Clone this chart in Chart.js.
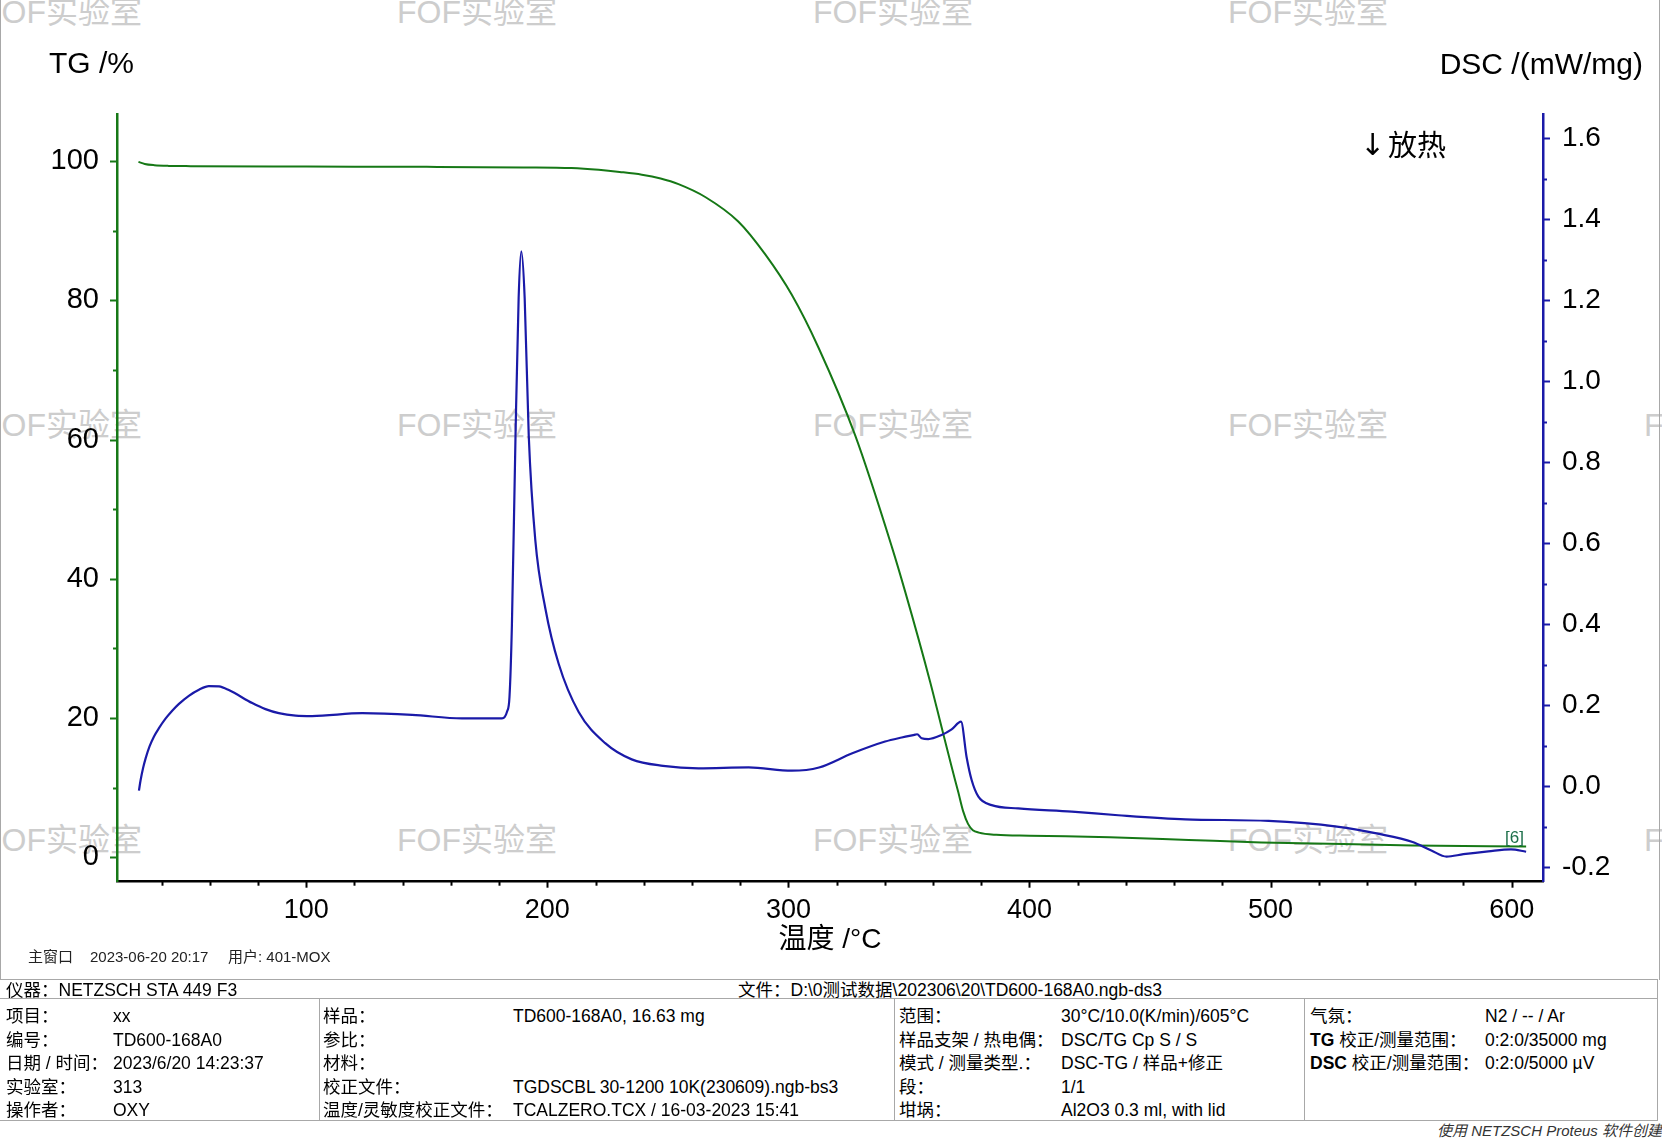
<!DOCTYPE html>
<html>
<head>
<meta charset="utf-8">
<title>TG / DSC</title>
<script src="https://cdn.jsdelivr.net/npm/chart.js@4.4.0/dist/chart.umd.min.js"></script>
<style>
    body {
        margin: 0;
        width: 1662px;
        height: 1140px;
        position: relative;
        overflow: hidden;
        background: #fff;
        font-family: "Liberation Sans", "Noto Sans CJK SC", sans-serif;
        color: #000;
    }
    .t { position: absolute; white-space: nowrap; }
    .cjk { font-family: "Liberation Sans", "Noto Sans CJK SC", sans-serif; }
    .wm {
        position: absolute;
        white-space: nowrap;
        color: #cdcdcd;
        font-size: 32px;
        transform: translate(-50%, -50%);
    }
    .row { position: absolute; white-space: nowrap; font-size: 17.5px; line-height: 20px; }
    .hl { position: absolute; left: 0; width: 1658px; height: 1px; background: #a8a8a8; }
    .vl { position: absolute; width: 1px; background: #a8a8a8; }
    #chart { position: absolute; left: 0; top: 0; }
</style>
</head>
<body>

<!-- watermark -->
<div class="wm" style="left:62px;top:9px">FOF实验室</div>
<div class="wm" style="left:477px;top:9px">FOF实验室</div>
<div class="wm" style="left:893px;top:9px">FOF实验室</div>
<div class="wm" style="left:1308px;top:9px">FOF实验室</div>
<div class="wm" style="left:62px;top:422px">FOF实验室</div>
<div class="wm" style="left:477px;top:422px">FOF实验室</div>
<div class="wm" style="left:893px;top:422px">FOF实验室</div>
<div class="wm" style="left:1308px;top:422px">FOF实验室</div>
<div class="wm" style="left:1724px;top:422px">FOF实验室</div>
<div class="wm" style="left:62px;top:837px">FOF实验室</div>
<div class="wm" style="left:477px;top:837px">FOF实验室</div>
<div class="wm" style="left:893px;top:837px">FOF实验室</div>
<div class="wm" style="left:1308px;top:837px">FOF实验室</div>
<div class="wm" style="left:1724px;top:837px">FOF实验室</div>

<canvas id="chart" width="1662" height="970"></canvas>

<!-- frame -->
<div class="vl" style="left:0;top:0;height:980px;"></div>
<div class="vl" style="left:1659px;top:0;height:980px;"></div>

<!-- axis titles and notes -->
<div class="t" style="left:49px;top:48px;font-size:30px;line-height:30px;">TG /%</div>
<div class="t" style="right:19px;top:49px;font-size:30px;line-height:30px;">DSC /(mW/mg)</div>
<div class="t" style="left:1360px;top:127px;font-family:'DejaVu Sans';font-size:30px;line-height:36px;">↓</div>
<div class="t cjk" style="left:1388px;top:128px;font-size:29px;line-height:36px;">放热</div>
<div class="t cjk" style="left:830px;top:939px;font-size:28px;line-height:30px;transform:translate(-50%,-50%);">温度 /°C</div>
<div class="t" style="left:1505px;top:828px;font-size:17px;line-height:20px;color:#1d6f4a;">[6]</div>

<div class="t cjk" style="left:28px;top:947px;font-size:15px;line-height:20px;color:#222;">主窗口</div>
<div class="t" style="left:90px;top:947px;font-size:15px;line-height:20px;color:#222;">2023-06-20 20:17</div>
<div class="t cjk" style="left:228px;top:947px;font-size:15px;line-height:20px;color:#222;">用户: 401-MOX</div>

<!-- info table -->
<div class="hl" style="top:979px;"></div>
<div class="hl" style="top:998px;"></div>
<div class="hl" style="top:1120px;"></div>
<div class="vl" style="left:319px;top:998px;height:122px;"></div>
<div class="vl" style="left:894px;top:998px;height:122px;"></div>
<div class="vl" style="left:1304px;top:998px;height:122px;"></div>
<div class="vl" style="left:1657px;top:979px;height:141px;"></div>

<div class="row" style="left:6px;top:980px;">仪器：NETZSCH STA 449 F3</div>
<div class="row" style="left:738px;top:980px;">文件：D:\0测试数据\202306\20\TD600-168A0.ngb-ds3</div>

<div class="row" style="left:6px;top:1006px;">项目：</div>
<div class="row" style="left:113px;top:1006px;">xx</div>
<div class="row" style="left:6px;top:1030px;">编号：</div>
<div class="row" style="left:113px;top:1030px;">TD600-168A0</div>
<div class="row" style="left:6px;top:1053px;">日期 / 时间：</div>
<div class="row" style="left:113px;top:1053px;">2023/6/20 14:23:37</div>
<div class="row" style="left:6px;top:1077px;">实验室：</div>
<div class="row" style="left:113px;top:1077px;">313</div>
<div class="row" style="left:6px;top:1100px;">操作者：</div>
<div class="row" style="left:113px;top:1100px;">OXY</div>

<div class="row" style="left:323px;top:1006px;">样品：</div>
<div class="row" style="left:513px;top:1006px;">TD600-168A0, 16.63 mg</div>
<div class="row" style="left:323px;top:1030px;">参比：</div>
<div class="row" style="left:323px;top:1053px;">材料：</div>
<div class="row" style="left:323px;top:1077px;">校正文件：</div>
<div class="row" style="left:513px;top:1077px;">TGDSCBL 30-1200 10K(230609).ngb-bs3</div>
<div class="row" style="left:323px;top:1100px;">温度/灵敏度校正文件：</div>
<div class="row" style="left:513px;top:1100px;">TCALZERO.TCX / 16-03-2023 15:41</div>

<div class="row" style="left:899px;top:1006px;">范围：</div>
<div class="row" style="left:1061px;top:1006px;">30°C/10.0(K/min)/605°C</div>
<div class="row" style="left:899px;top:1030px;">样品支架 / 热电偶：</div>
<div class="row" style="left:1061px;top:1030px;">DSC/TG Cp S / S</div>
<div class="row" style="left:899px;top:1053px;">模式 / 测量类型.：</div>
<div class="row" style="left:1061px;top:1053px;">DSC-TG / 样品+修正</div>
<div class="row" style="left:899px;top:1077px;">段：</div>
<div class="row" style="left:1061px;top:1077px;">1/1</div>
<div class="row" style="left:899px;top:1100px;">坩埚：</div>
<div class="row" style="left:1061px;top:1100px;">Al2O3 0.3 ml, with lid</div>

<div class="row" style="left:1310px;top:1006px;">气氛：</div>
<div class="row" style="left:1485px;top:1006px;">N2 / -- / Ar</div>
<div class="row" style="left:1310px;top:1030px;"><b>TG</b> 校正/测量范围：</div>
<div class="row" style="left:1485px;top:1030px;">0:2:0/35000 mg</div>
<div class="row" style="left:1310px;top:1053px;"><b>DSC</b> 校正/测量范围：</div>
<div class="row" style="left:1485px;top:1053px;">0:2:0/5000 µV</div>

<div class="row" style="right:0;top:1121px;font-size:15px;font-style:italic;color:#333;">使用 NETZSCH Proteus 软件创建</div>

<script>
// TG / DSC data
const tgTemp = [30.4, 33, 37, 43, 52, 100, 150, 190, 210, 221.3, 230, 239.2, 247, 254.4, 265.5, 279.3, 290.4, 301.4,
    312.5, 327.7, 342.9, 348.4, 358.8, 363.6, 367.7, 370.5, 372.5, 374.5, 376.5, 379, 386.2, 400, 433.3, 466, 496.1,
    530, 558.9, 606];
const tgValues = [99.9, 99.6, 99.42, 99.32, 99.28, 99.22, 99.18, 99.1, 99.0, 98.75, 98.45, 98.05, 97.5, 96.7, 94.85,
    91.3, 86.6, 80.8, 73.2, 60.6, 44.6, 38.2, 25.2, 18.6, 13.0, 9.3, 6.6, 4.8, 3.9, 3.55, 3.23, 3.1, 2.9, 2.5, 2.13,
    1.9, 1.7, 1.55];

const dscTemp = [30.6, 31.3, 32.3, 33.4, 35.0, 36.8, 38.9, 41.7, 44.4, 47.2, 51.3, 55.5, 59.6, 63.8, 67.9, 77.6, 83.1,
    88.6, 95.6, 102.4, 123.2, 143.9, 164.6, 181.2, 183.3, 184.3, 185.3, 186.8, 188.1, 189.2, 190.6, 192.3, 195.0,
    199.2, 204.7, 213.0, 224.0, 235.0, 248.0, 262.7, 283.5, 301.4, 312.7, 326.5, 340.1, 347.0, 352.6, 353.4, 355.3,
    358.0, 363.5, 367.7, 371.6, 373.9, 376.0, 378.8, 384.3, 395.3, 417.6, 436.8, 464.7, 499.2, 527.5, 545.0, 558.9,
    566.7, 573.0, 580.0, 590.3, 599.7, 606.0];
const dscValues = [-0.011, 0.015, 0.044, 0.069, 0.098, 0.122, 0.143, 0.167, 0.186, 0.203, 0.223, 0.238, 0.247, 0.246,
    0.237, 0.205, 0.190, 0.180, 0.174, 0.173, 0.180, 0.176, 0.167, 0.167, 0.184, 0.22, 0.396, 0.864, 1.205, 1.320,
    1.205, 0.864, 0.608, 0.438, 0.302, 0.183, 0.106, 0.066, 0.050, 0.044, 0.046, 0.038, 0.046, 0.081, 0.110, 0.120,
    0.127, 0.128, 0.118, 0.116, 0.126, 0.140, 0.159, 0.072, 0.015, -0.026, -0.047, -0.055, -0.063, -0.072, -0.082,
    -0.086, -0.100, -0.118, -0.138, -0.159, -0.174, -0.168, -0.161, -0.156, -0.162];

const tempTicks = [100, 200, 300, 400, 500, 600];
const tgTicks = [0, 20, 40, 60, 80, 100];
const dscTicks = [-0.2, 0.0, 0.2, 0.4, 0.6, 0.8, 1.0, 1.2, 1.4, 1.6];

const GREEN = '#167816';
const BLUE = '#1a1aa8';
const FONT = '"Liberation Sans", Arial, sans-serif';

document.addEventListener('DOMContentLoaded', function () {
    drawThermoChart();
});

function toPoints(xs, ys) {
    return xs.map((x, i) => ({ x: x, y: ys[i] }));
}

/**
 * Outward tick marks, long on labelled values, short in between
 */
const tickMarks = {
    id: 'tickMarks',
    afterDraw(chart) {
        const ctx = chart.ctx;
        const area = chart.chartArea;
        const sx = chart.scales.x, sl = chart.scales.tg, sr = chart.scales.dsc;
        ctx.save();
        ctx.lineWidth = 2;

        ctx.strokeStyle = '#000';
        for (let v = 40; v <= 600; v += 20) {
            const px = Math.round(sx.getPixelForValue(v)) + 0.5;
            const len = tempTicks.includes(v) ? 6 : 4;
            ctx.beginPath();
            ctx.moveTo(px, area.bottom);
            ctx.lineTo(px, area.bottom + len);
            ctx.stroke();
        }

        ctx.strokeStyle = GREEN;
        for (let v = 0; v <= 100; v += 10) {
            const py = Math.round(sl.getPixelForValue(v)) + 0.5;
            const len = tgTicks.includes(v) ? 7 : 4;
            ctx.beginPath();
            ctx.moveTo(area.left, py);
            ctx.lineTo(area.left - len, py);
            ctx.stroke();
        }

        ctx.strokeStyle = BLUE;
        for (let k = -2; k <= 16; k++) {
            const py = Math.round(sr.getPixelForValue(k / 10)) + 0.5;
            const len = (k % 2 === 0) ? 7 : 4;
            ctx.beginPath();
            ctx.moveTo(area.right, py);
            ctx.lineTo(area.right + len, py);
            ctx.stroke();
        }
        ctx.restore();
    }
};

function drawThermoChart() {
    const canvas = document.getElementById('chart');
    new Chart(canvas, {
        type: 'line',
        data: {
            datasets: [{
                label: 'DSC',
                data: toPoints(dscTemp, dscValues),
                yAxisID: 'dsc',
                borderColor: BLUE,
                borderWidth: 2.2,
                pointRadius: 0,
                cubicInterpolationMode: 'monotone',
                fill: false
            }, {
                label: 'TG',
                data: toPoints(tgTemp, tgValues),
                yAxisID: 'tg',
                borderColor: GREEN,
                borderWidth: 2,
                pointRadius: 0,
                cubicInterpolationMode: 'monotone',
                fill: false
            }]
        },
        options: {
            responsive: false,
            animation: false,
            devicePixelRatio: 1,
            layout: { padding: { top: 114.5, left: 0, right: 0, bottom: 0 } },
            plugins: {
                legend: { display: false },
                tooltip: { enabled: false }
            },
            scales: {
                x: {
                    type: 'linear',
                    min: 21.5,
                    max: 613,
                    grid: { display: false, drawTicks: false },
                    border: { color: '#000', width: 2.5 },
                    ticks: {
                        color: '#000',
                        font: { family: FONT, size: 27 },
                        padding: 13,
                        callback: v => String(v)
                    },
                    afterBuildTicks: s => { s.ticks = tempTicks.map(v => ({ value: v })); },
                    afterFit: s => { s.height = 970 - 881.7; }
                },
                tg: {
                    type: 'linear',
                    position: 'left',
                    min: -3.5,
                    max: 106.7,
                    grid: { display: false, drawTicks: false },
                    border: { color: GREEN, width: 2.5 },
                    ticks: {
                        color: '#000',
                        font: { family: FONT, size: 29 },
                        padding: 18,
                        callback: v => String(v)
                    },
                    afterBuildTicks: s => { s.ticks = tgTicks.map(v => ({ value: v })); },
                    afterFit: s => { s.width = 117; }
                },
                dsc: {
                    type: 'linear',
                    position: 'right',
                    min: -0.236,
                    max: 1.658,
                    grid: { display: false, drawTicks: false },
                    border: { color: BLUE, width: 2.5 },
                    ticks: {
                        color: '#000',
                        font: { family: FONT, size: 28 },
                        padding: 19,
                        callback: v => v.toFixed(1)
                    },
                    afterBuildTicks: s => { s.ticks = dscTicks.map(v => ({ value: v })); },
                    afterFit: s => { s.width = 1662 - 1543; }
                }
            }
        },
        plugins: [tickMarks]
    });
}
</script>
</body>
</html>
